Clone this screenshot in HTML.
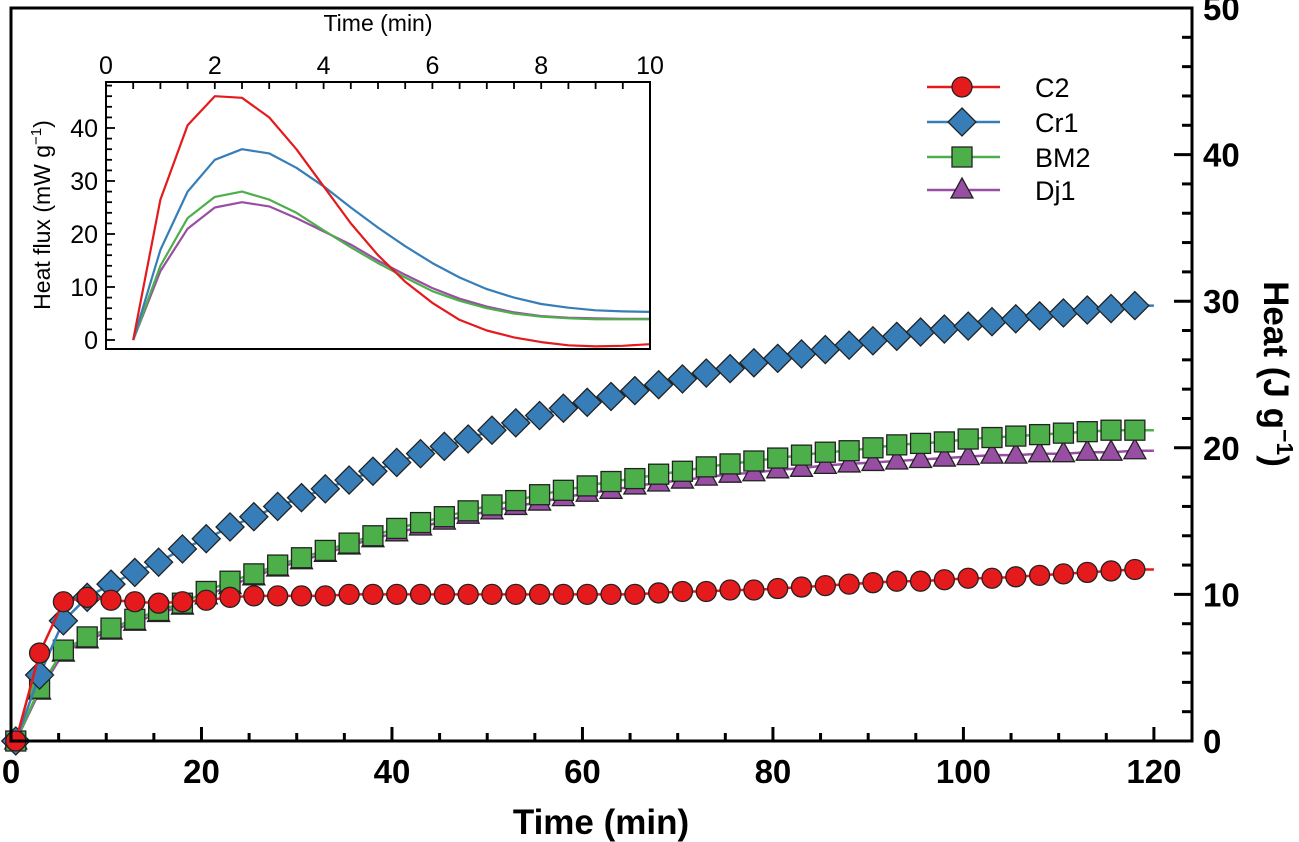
<!DOCTYPE html>
<html><head><meta charset="utf-8"><style>
html,body{margin:0;padding:0;background:#fff}
svg{display:block;font-family:"Liberation Sans",Arial,sans-serif}
</style></head><body>
<svg id="chart" width="1299" height="842" viewBox="0 0 1299 842" xmlns="http://www.w3.org/2000/svg">
<g id="main"></g>
<g id="inset"></g>
<g id="legend"></g>
</svg>
<script>
const seriesNames = ["C2","Cr1","BM2","Dj1"];
const seriesColors = ["#e41a1c","#377eb8","#4daf4a","#984ea3"];
const mainTimes = [0.5,3,5.5,8,10.5,13,15.5,18,20.5,23,25.5,28,30.5,33,35.5,38,40.5,43,45.5,48,50.5,53,55.5,58,60.5,63,65.5,68,70.5,73,75.5,78,80.5,83,85.5,88,90.5,93,95.5,98,100.5,103,105.5,108,110.5,113,115.5,118];
const heatC2 = [0,6.0,9.5,9.8,9.6,9.5,9.4,9.5,9.6,9.8,9.9,9.9,9.9,9.9,10.0,10.0,10.0,10.0,10.0,10.0,10.0,10.0,10.0,10.0,10.0,10.0,10.0,10.1,10.2,10.2,10.3,10.3,10.4,10.5,10.6,10.7,10.8,10.9,10.9,11.0,11.1,11.1,11.2,11.3,11.4,11.5,11.6,11.7];
const heatCr1 = [0,4.5,8.2,9.8,10.7,11.5,12.2,13.1,13.8,14.6,15.3,16.0,16.6,17.2,17.8,18.4,19.0,19.6,20.1,20.6,21.2,21.7,22.2,22.7,23.1,23.5,23.9,24.3,24.7,25.1,25.4,25.8,26.1,26.4,26.7,27.0,27.3,27.6,27.9,28.1,28.3,28.6,28.8,29.0,29.2,29.4,29.5,29.7];
const heatBM2 = [0,3.6,6.2,7.1,7.7,8.3,8.9,9.4,10.2,10.9,11.4,12.0,12.5,13.0,13.5,14.0,14.5,14.9,15.3,15.7,16.1,16.4,16.8,17.1,17.4,17.7,17.9,18.2,18.4,18.7,18.9,19.1,19.3,19.5,19.7,19.8,20.0,20.2,20.3,20.4,20.6,20.7,20.8,20.9,21.0,21.1,21.2,21.2];
const heatDj1 = [0,3.4,6.0,6.9,7.5,8.1,8.7,9.2,9.9,10.6,11.2,11.8,12.3,12.8,13.3,13.8,14.2,14.6,15.0,15.4,15.7,16.0,16.3,16.6,16.9,17.1,17.4,17.6,17.8,18.0,18.2,18.3,18.5,18.6,18.8,18.9,19.0,19.1,19.2,19.3,19.4,19.5,19.5,19.6,19.6,19.7,19.7,19.8];
const mainXTicks = [0,20,40,60,80,100,120];
const mainYTicks = [0,10,20,30,40,50];
const insetTimes = [0.5,1,1.5,2,2.5,3,3.5,4,4.5,5,5.5,6,6.5,7,7.5,8,8.5,9,9.5,10];
const fluxC2 = [0,26.5,40.5,46,45.7,42,36,29,22,16,11,7,3.8,1.8,0.5,-0.4,-1,-1.2,-1.1,-0.8];
const fluxCr1 = [0,17,28,34,36,35.2,32.5,29,25,21.2,17.7,14.5,11.8,9.6,8,6.8,6.1,5.6,5.4,5.3];
const fluxBM2 = [0,14,23,27,28,26.5,24,20.7,17.5,14.5,11.8,9.2,7.4,6,5,4.4,4.1,3.9,3.9,3.9];
const fluxDj1 = [0,13,21,25,26,25.2,23,20.5,18,15,12.3,9.8,7.8,6.3,5.2,4.5,4.2,4.1,4,4];
const insetXTicks = [0,2,4,6,8,10];
const insetYTicks = [0,10,20,30,40];

const NS="http://www.w3.org/2000/svg";
function mk(tag,attrs,parent){const e=document.createElementNS(NS,tag);for(const k in attrs)e.setAttribute(k,attrs[k]);parent.appendChild(e);return e;}
const MX0=11, MX1=1192, MXMAX=124, MY0=741, MY1=8, MYMAX=50;
const mx=t=>MX0+(MX1-MX0)*t/MXMAX;
const my=v=>MY0-(MY0-MY1)*v/MYMAX;
const main=document.getElementById('main');
const mainHeat=[heatC2,heatCr1,heatBM2,heatDj1];
const markerKinds=["circle","diamond","square","triangle"];
function marker(kind,x,y,color,parent){
  let e;
  if(kind==="circle") e=mk('circle',{cx:x,cy:y,r:10,fill:color,stroke:"#222","stroke-width":1.3},parent);
  else if(kind==="diamond") e=mk('polygon',{points:`${x},${y-14} ${x+14},${y} ${x},${y+14} ${x-14},${y}`,fill:color,stroke:"#222","stroke-width":1.3},parent);
  else if(kind==="square") e=mk('rect',{x:x-10,y:y-10,width:20,height:20,fill:color,stroke:"#222","stroke-width":1.3},parent);
  else e=mk('polygon',{points:`${x},${y-12} ${x+11},${y+8} ${x-11},${y+8}`,fill:color,stroke:"#222","stroke-width":1.3},parent);
  return e;
}
[3,2,1,0].forEach(si=>{
  const vals=mainHeat[si];
  const g=mk('g',{},main);
  
  
  let d=mainTimes.map((t,i)=>(i?'L':'M')+mx(t).toFixed(1)+','+my(vals[i]).toFixed(1)).join(' ');
  d+=' L'+mx(120).toFixed(1)+','+my(vals[vals.length-1]).toFixed(1);
  const p=mk('path',{d:d,fill:"none",stroke:seriesColors[si],"stroke-width":2.5},g);
  
  
  mainTimes.forEach((t,i)=>{
    const m=marker(markerKinds[si],mx(t),my(vals[i]),seriesColors[si],g);
    
    
  });
});
const fr=mk('rect',{x:MX0,y:MY1,width:MX1-MX0,height:MY0-MY1,fill:"none",stroke:"#000","stroke-width":3},main);


for(let t=0;t<=120;t+=5){
  const big=t%20===0;
  mk('line',{x1:mx(t),x2:mx(t),y1:MY0,y2:MY0-(big?14:8),stroke:"#000","stroke-width":3},main);
}
mainXTicks.forEach(t=>{
  const e=mk('text',{x:mx(t),y:783,"text-anchor":"middle","font-size":33,"font-weight":"bold"},main);
  e.textContent=t;
  
  
});
for(let v=0;v<=50;v+=2){
  const big=v%10===0;
  mk('line',{x1:MX1,x2:MX1-(big?18:10),y1:my(v),y2:my(v),stroke:"#000","stroke-width":3},main);
}
mainYTicks.forEach(v=>{
  const e=mk('text',{x:1203,y:my(v)+12,"text-anchor":"start","font-size":33,"font-weight":"bold"},main);
  e.textContent=v;
  
  
});
const xt=mk('text',{x:601,y:834,"text-anchor":"middle","font-size":35,"font-weight":"bold"},main);
xt.textContent="Time (min)";


const yt=mk('text',{x:0,y:0,"text-anchor":"middle","font-size":35,"font-weight":"bold",transform:"translate(1264,374) rotate(90)"},main);
yt.innerHTML='Heat (J g<tspan dy="-13" font-size="23">−1</tspan><tspan dy="13">)</tspan>';



const IX0=106, IX1=650, IY0=340, IYT=82, IYB=349;
const ix=t=>IX0+(IX1-IX0)*t/10;
const iy=v=>IY0-5.3*v;
const inset=document.getElementById('inset');
mk('rect',{x:IX0,y:IYT,width:IX1-IX0,height:IYB-IYT,fill:"#fff"},inset);
const insetFlux=[fluxC2,fluxCr1,fluxBM2,fluxDj1];
[3,2,1,0].forEach(si=>{
  const vals=insetFlux[si];
  const p=mk('path',{d:insetTimes.map((t,i)=>(i?'L':'M')+ix(t).toFixed(1)+','+iy(vals[i]).toFixed(1)).join(' '),fill:"none",stroke:seriesColors[si],"stroke-width":2.2,"stroke-linejoin":"round"},inset);
  
  
});
const ifr=mk('rect',{x:IX0,y:IYT,width:IX1-IX0,height:IYB-IYT,fill:"none",stroke:"#000","stroke-width":2},inset);


for(let k=0;k<=20;k++){const t=k*0.5;mk('line',{x1:ix(t),x2:ix(t),y1:IYT,y2:IYT+7,stroke:"#000","stroke-width":1.8},inset);}
for(let v=0;v<=48;v+=2){mk('line',{x1:IX0,x2:IX0+(v%10===0?9:6),y1:iy(v),y2:iy(v),stroke:"#000","stroke-width":1.8},inset);}
insetXTicks.forEach(t=>{
  const e=mk('text',{x:ix(t),y:74,"text-anchor":"middle","font-size":25},inset);
  e.textContent=t;
  
  
});
insetYTicks.forEach(v=>{
  const e=mk('text',{x:98,y:iy(v)+9,"text-anchor":"end","font-size":25},inset);
  e.textContent=v;
  
  
});
const ixt=mk('text',{x:378,y:31,"text-anchor":"middle","font-size":23},inset);
ixt.textContent="Time (min)";


const iyt=mk('text',{x:0,y:0,"text-anchor":"middle","font-size":23,transform:"translate(50,215) rotate(-90)"},inset);
iyt.innerHTML='Heat flux (mW g<tspan dy="-9" font-size="15">−1</tspan><tspan dy="9">)</tspan>';



const legend=document.getElementById('legend');
const legY=[87,122,157,190];
seriesNames.forEach((n,i)=>{
  const g=mk('g',{},legend);
  
  
  mk('line',{x1:927,x2:1000,y1:legY[i],y2:legY[i],stroke:seriesColors[i],"stroke-width":2.5},g);
  marker(markerKinds[i],962,legY[i],seriesColors[i],g);
  const t=mk('text',{x:1035,y:legY[i]+10,"font-size":27},g);
  t.textContent=n;
});
</script>
</body></html>
